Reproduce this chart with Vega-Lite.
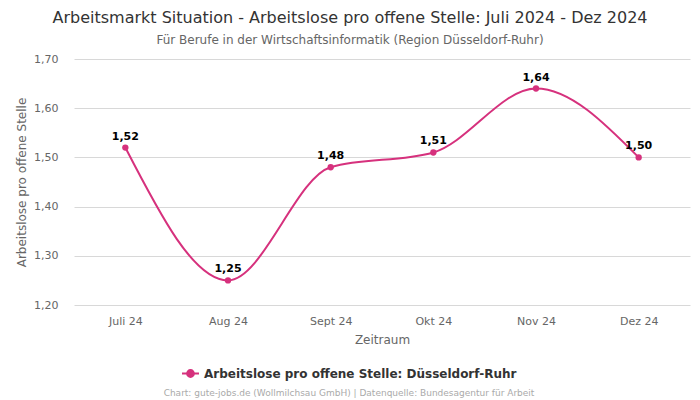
{
  "$schema": "https://vega.github.io/schema/vega-lite/v6.json",
  "width": 616,
  "height": 246,
  "autosize": {"type": "none"},
  "padding": {"left": 74, "top": 59, "right": 10, "bottom": 95},
  "config": {
    "font": "DejaVu Sans",
    "locale": {"number": {"decimal": ",", "thousands": ".", "grouping": [3], "currency": ["", " €"]}},
    "view": {"stroke": null},
    "axis": {"labelColor": "#666666", "titleColor": "#666666", "labelFontSize": 11, "titleFontSize": 12, "titleFontWeight": "normal"}
  },
  "title": {
    "text": "Arbeitsmarkt Situation - Arbeitslose pro offene Stelle: Juli 2024 - Dez 2024",
    "subtitle": "Für Berufe in der Wirtschaftsinformatik (Region Düsseldorf-Ruhr)",
    "anchor": "middle",
    "dx": -32,
    "fontSize": 16,
    "fontWeight": "normal",
    "color": "#333333",
    "subtitleFontSize": 12,
    "subtitleColor": "#666666",
    "subtitlePadding": 9,
    "offset": 7
  },
  "data": {
    "values": [
      {"monat": "Juli 24", "wert": 1.52, "serie": "Arbeitslose pro offene Stelle: Düsseldorf-Ruhr"},
      {"monat": "Aug 24", "wert": 1.25, "serie": "Arbeitslose pro offene Stelle: Düsseldorf-Ruhr"},
      {"monat": "Sept 24", "wert": 1.48, "serie": "Arbeitslose pro offene Stelle: Düsseldorf-Ruhr"},
      {"monat": "Okt 24", "wert": 1.51, "serie": "Arbeitslose pro offene Stelle: Düsseldorf-Ruhr"},
      {"monat": "Nov 24", "wert": 1.64, "serie": "Arbeitslose pro offene Stelle: Düsseldorf-Ruhr"},
      {"monat": "Dez 24", "wert": 1.50, "serie": "Arbeitslose pro offene Stelle: Düsseldorf-Ruhr"}
    ]
  },
  "encoding": {
    "x": {
      "field": "monat", "type": "ordinal", "sort": null,
      "scale": {"type": "point", "padding": 0.5},
      "axis": {"title": "Zeitraum", "labelAngle": 0, "ticks": false, "domain": false, "grid": false, "labelPadding": 10, "titlePadding": 8}
    },
    "y": {
      "field": "wert", "type": "quantitative",
      "scale": {"domain": [1.2, 1.7], "nice": false, "zero": false},
      "axis": {"title": "Arbeitslose pro offene Stelle", "values": [1.2, 1.3, 1.4, 1.5, 1.6, 1.7], "format": ".2f", "ticks": false, "domain": false, "gridColor": "#d8d8d8", "labelPadding": 16, "titlePadding": 5}
    }
  },
  "layer": [
    {
      "mark": {"type": "line", "interpolate": "monotone", "strokeWidth": 2},
      "encoding": {
        "color": {
          "field": "serie", "type": "nominal",
          "scale": {"range": ["#d6317d"]},
          "legend": {
            "title": "Chart: gute-jobs.de (Wollmilchsau GmbH) | Datenquelle: Bundesagentur für Arbeit",
            "orient": "none",
            "legendX": 90,
            "legendY": 305,
            "direction": "horizontal",
            "titleOrient": "bottom",
            "titleAnchor": "middle",
            "titleFontSize": 9,
            "titleFontWeight": "normal",
            "titleColor": "#aaaaaa",
            "titlePadding": 8,
            "titleLimit": 1000,
            "labelLimit": 1000,
            "labelFontSize": 12,
            "labelFontWeight": "bold",
            "labelColor": "#333333",
            "symbolType": "M-1,0L1,0M-0.4,0A0.4,0.4 0 1,1 0.4,0A0.4,0.4 0 1,1 -0.4,0",
            "symbolSize": 289,
            "symbolStrokeWidth": 2,
            "symbolFillColor": "#d6317d",
            "symbolStrokeColor": "#d6317d"
          }
        }
      }
    },
    {
      "mark": {"type": "point", "filled": true, "size": 40, "opacity": 1, "color": "#d6317d"}
    },
    {
      "mark": {"type": "text", "dy": -11, "fontSize": 11, "fontWeight": "bold", "color": "#000000"},
      "encoding": {"text": {"field": "wert", "type": "quantitative", "format": ".2f"}}
    }
  ]
}
